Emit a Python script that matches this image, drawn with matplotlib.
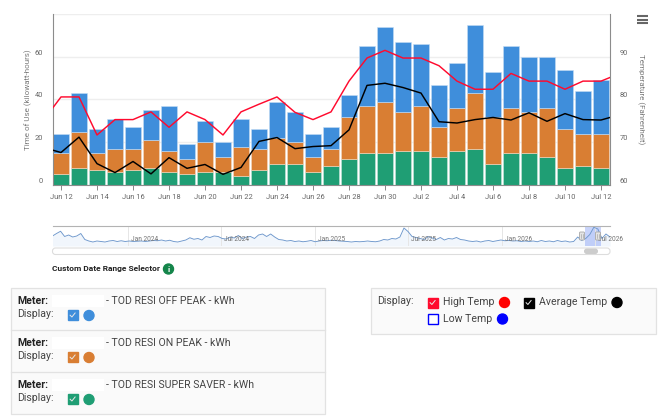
import matplotlib
matplotlib.use('Agg')
import matplotlib.pyplot as plt
import matplotlib.dates as mdates
from matplotlib.patches import Rectangle, Circle, FancyBboxPatch
import numpy as np
import pandas as pd

plt.rcParams['font.family'] = ['Roboto', 'DejaVu Sans']

BLUE = '#3f8edb'
ORANGE = '#d97e33'
GREEN = '#1f9e74'
RED = '#ff0a2e'
GRAY = '#666666'

W, H = 662, 418

# daily kWh, stacked
super_saver = [5, 8, 7, 6, 7, 8, 6, 5, 6, 6, 4, 7, 10, 10, 6, 9,
               12, 15, 15, 16, 16, 13, 16, 17, 10, 15, 15, 13, 8, 9, 8]
on_peak_top = [15, 25, 15, 17, 17, 21, 16, 12, 20, 13, 18, 17, 22, 20, 13, 17,
               32, 37, 39, 34, 37, 27, 36, 43, 32, 36, 34, 36, 26, 24, 24]
off_peak_top = [24, 43, 26, 31, 27, 35, 37, 19, 30, 20, 31, 26, 39, 34, 24, 27,
                42, 65, 74, 67, 66, 47, 57, 75, 53, 65, 60, 60, 54, 44, 49]

# temps run one day past the bars each side, clipped by the plot
high_temp = [75, 80.6, 80.6, 71.7, 75.3, 75.3, 77.1, 73.5, 77.1, 75.3, 71.7,
             77.1, 78.9, 80.6, 77, 75.3, 77.1, 84.3, 89.7, 91.5, 89.7, 89.7,
             87.9, 84.3, 82.4, 82.4, 86.1, 84.3, 84.3, 82.4, 84.3, 84.3, 86]
avg_temp = [68.8, 67.6, 71.2, 65, 62.9, 65.5, 62.6, 66.4, 63.9, 64.8, 62.5,
            64.1, 70.2, 71.1, 68.5, 69, 69.2, 72.9, 83.3, 83.8, 82.8, 81.5,
            74.8, 74.5, 75.3, 75.8, 75.2, 76.9, 74.9, 76.7, 75.3, 75.2, 76.4]

# navigator series, one reading every 8 days or so
overview = [40, 50, 59, 38, 44, 36, 40, 50, 26, 20, 16, 20, 18, 16, 20, 22, 18,
            21, 18, 20, 18, 19, 20, 18, 20, 22, 21, 24, 20, 23, 18, 16, 20, 24,
            33, 27, 30, 24, 38, 34, 40, 38, 30, 28, 36, 32, 42, 30, 36, 38, 30,
            44, 48, 38, 48, 36, 26, 24, 20, 22, 18, 20, 17, 19, 22, 17, 20,
            22, 21, 23, 22, 20, 19, 18, 16, 18, 17, 18, 20, 18, 17, 20,
            26, 24, 30, 28, 36, 72, 58, 38, 34,
            30, 26, 38, 32, 26, 34, 24, 30, 28, 34, 26, 24, 20, 18, 20, 16, 20, 22, 18, 21,
            24, 21, 22, 20, 21, 18, 20, 18, 20, 17, 22, 18, 20, 17, 22, 18, 20, 16,
            18, 36, 22, 30, 46, 75, 68, 30, 48, 36]

meters = ['- TOD RESI OFF PEAK - kWh', '- TOD RESI ON PEAK - kWh',
          '- TOD RESI SUPER SAVER - kWh']
overview_ticks = ['2024-01-01', '2024-07-01', '2025-01-01', '2025-07-01',
                  '2026-01-01', '2026-07-01']

days = pd.date_range('2026-06-12', periods=len(off_peak_top))
temp_days = pd.date_range('2026-06-11', periods=len(high_temp))
off_peak = np.array(off_peak_top) - np.array(on_peak_top)
on_peak = np.array(on_peak_top) - np.array(super_saver)


def px_axes(x0, y0, x1, y1):
    return fig.add_axes([x0 / W, 1 - y1 / H, (x1 - x0) / W, (y1 - y0) / H])


fig = plt.figure(figsize=(W / 100, H / 100), dpi=100, facecolor='white')

# main chart
ax = px_axes(52.5, 14, 610, 185)
ax.bar(days, super_saver, width=0.84, color=GREEN, edgecolor='#c6e6db', linewidth=0.4, zorder=2)
ax.bar(days, on_peak, width=0.84, bottom=super_saver, color=ORANGE, edgecolor='#f3d9c4', linewidth=0.4, zorder=2)
ax.bar(days, off_peak, width=0.84, bottom=on_peak_top, color=BLUE, edgecolor='#c5ddf4', linewidth=0.4, zorder=2)
ax.set_ylim(0, 80)
ax.set_xlim(pd.Timestamp('2026-06-11 12:40'), pd.Timestamp('2026-07-12 12:00'))
ax.set_yticks([0, 20, 40, 60, 80])
ax.set_yticklabels(['0', '20', '40', '60', ''], va='bottom')
ax.yaxis.grid(True, color='#eeeeee', lw=1, zorder=0)
ax.set_axisbelow(True)
ax.xaxis.set_major_locator(mdates.DayLocator(bymonthday=[12, 14, 16, 18, 20, 22, 24, 26, 28, 30, 2, 4, 6, 8, 10]))
ax.xaxis.set_major_formatter(mdates.DateFormatter('%b %-d'))
ax.tick_params(axis='x', labelsize=5.4, colors=GRAY, length=3.5, width=0.7, pad=3, color='#888888')
ax.tick_params(axis='y', labelsize=5.4, colors=GRAY, length=0, pad=7)
ax.set_ylabel('Time of Use (kilowatt-hours)', fontsize=5.8, color='#7a7a7a', labelpad=2)
for side in ['top', 'right']:
    ax.spines[side].set_visible(False)
ax.spines['left'].set_color('#8c8c8c')
ax.spines['bottom'].set_color('#8c8c8c')

temp = ax.twinx()
temp.plot(temp_days, high_temp, color=RED, lw=1.05, zorder=5)
temp.plot(temp_days, avg_temp, color='black', lw=1.05, zorder=5)
temp.set_ylim(60, 100)
temp.set_yticks([60, 70, 80, 90])
temp.set_yticklabels(['60', '70', '80', '90'], va='bottom')
temp.tick_params(axis='y', labelsize=5.4, colors=GRAY, length=0, pad=7)
temp.set_ylabel('Temperature (Fahrenheit)', fontsize=5.8, color='#7a7a7a', rotation=270, labelpad=12)
for side in ['top', 'left', 'bottom']:
    temp.spines[side].set_visible(False)
temp.spines['right'].set_color('#8c8c8c')

# navigator
nav = px_axes(52.5, 226, 610, 246)
nav_days = pd.date_range('2023-08-07', '2026-07-30', periods=len(overview))
nav.fill_between(nav_days, overview, color='#f1f6fc', lw=0)
nav.plot(nav_days, overview, color='#6d97cc', lw=0.65)
nav.set_xlim(nav_days[0], nav_days[-1])
nav.set_ylim(0, 80)
nav.set_yticks([])
nav.set_xticks(pd.to_datetime(overview_ticks))
nav.xaxis.grid(True, color='#e6e6e6', lw=0.7)
nav.tick_params(axis='x', length=0, labelbottom=False)
for tick in pd.to_datetime(overview_ticks):
    nav.annotate(tick.strftime('%b %Y'), (tick, 0), xytext=(2.2, 2.2), textcoords='offset points',
                 fontsize=4.7, color='#707070', va='bottom', ha='left', clip_on=False, annotation_clip=False)
nav.axvspan(pd.Timestamp('2026-06-12'), pd.Timestamp('2026-07-12 12:00'), color='#6685f2', alpha=0.35, lw=0)
for side in ['left', 'right', 'bottom']:
    nav.spines[side].set_visible(False)
nav.spines['top'].set_color('#b3b3b3')

# everything below is the page around the chart, drawn in pixels
page = fig.add_axes([0, 0, 1, 1], zorder=10)
page.set_xlim(0, W)
page.set_ylim(H, 0)
page.axis('off')
page.patch.set_alpha(0)


def label(x, y, s, size=7.6, color='#444444', weight='normal'):
    page.text(x, y, s, fontsize=size, color=color, fontweight=weight, va='center', ha='left')


def checkbox(x, y, color, checked=True):
    page.add_patch(Rectangle((x, y), 10, 10, facecolor=color if checked else 'white', edgecolor=color, lw=1))
    if checked:
        page.plot([x + 2.6, x + 4.4, x + 7.6], [y + 5.2, y + 7, y + 3], color='#e8e8e8', lw=0.7)


# handles and scrollbar
for hx in [582, 598]:
    page.add_patch(FancyBboxPatch((hx - 2.5, 232), 5, 8, boxstyle='round,pad=0,rounding_size=1',
                                  facecolor='#e4e4e4', edgecolor='#a8a8a8', lw=0.6))
    page.plot([hx - 0.7, hx - 0.7], [234, 238], color='#999999', lw=0.4)
    page.plot([hx + 0.7, hx + 0.7], [234, 238], color='#999999', lw=0.4)
page.add_patch(FancyBboxPatch((52.5, 248), 557.5, 6.5, boxstyle='round,pad=0,rounding_size=3',
                              facecolor='white', edgecolor='#dddddd', lw=0.8))
page.add_patch(FancyBboxPatch((584, 248.5), 14, 5.5, boxstyle='round,pad=0,rounding_size=2.7',
                              facecolor='#cccccc', edgecolor='none'))

# menu icon
for y in [15.8, 19.6, 23.4]:
    page.plot([637, 647.5], [y, y], color=GRAY, lw=1.5, solid_capstyle='butt')

label(52.5, 269, 'Custom Date Range Selector', size=6.05, color='#222222', weight='bold')
page.add_patch(Circle((168.5, 269), 5, color='#14854a'))
page.text(168.5, 269, 'i', fontsize=6, color='white', fontweight='bold', ha='center', va='center')

# meter panel
page.add_patch(Rectangle((10.5, 287.5), 314.5, 126, facecolor='#fafafa', edgecolor='#e2e2e2', lw=0.9))
for y in [329.5, 371.5]:
    page.plot([10.5, 325], [y, y], color='#e2e2e2', lw=0.9)
for row, (name, color) in enumerate(zip(meters, [BLUE, ORANGE, GREEN])):
    y0 = 301 + row * 42
    label(17.5, y0, 'Meter:', color='#222222', weight='bold')
    page.add_patch(Rectangle((52, y0 - 6), 52, 12, facecolor='white', edgecolor='none'))
    label(106.5, y0, name)
    label(17.5, y0 + 13, 'Display:')
    checkbox(67.5, y0 + 9, color)
    page.add_patch(Circle((89, y0 + 14.5), 5, color=color))

# temperature panel
page.add_patch(Rectangle((370.5, 287.5), 285, 46, facecolor='#fafafa', edgecolor='#e2e2e2', lw=0.9))
label(377.5, 301.5, 'Display:')
checkbox(427.5, 297.5, RED)
label(443, 302, 'High Temp')
page.add_patch(Circle((504.5, 302.5), 5, color='#ff0000'))
checkbox(523.5, 297.5, 'black')
label(539, 302, 'Average Temp')
page.add_patch(Circle((617, 302.5), 5, color='black'))
checkbox(427.5, 314, '#0000ff', checked=False)
label(443, 318.5, 'Low Temp')
page.add_patch(Circle((502.5, 319), 5, color='#0000ff'))

fig.savefig('out.png', dpi=100)
